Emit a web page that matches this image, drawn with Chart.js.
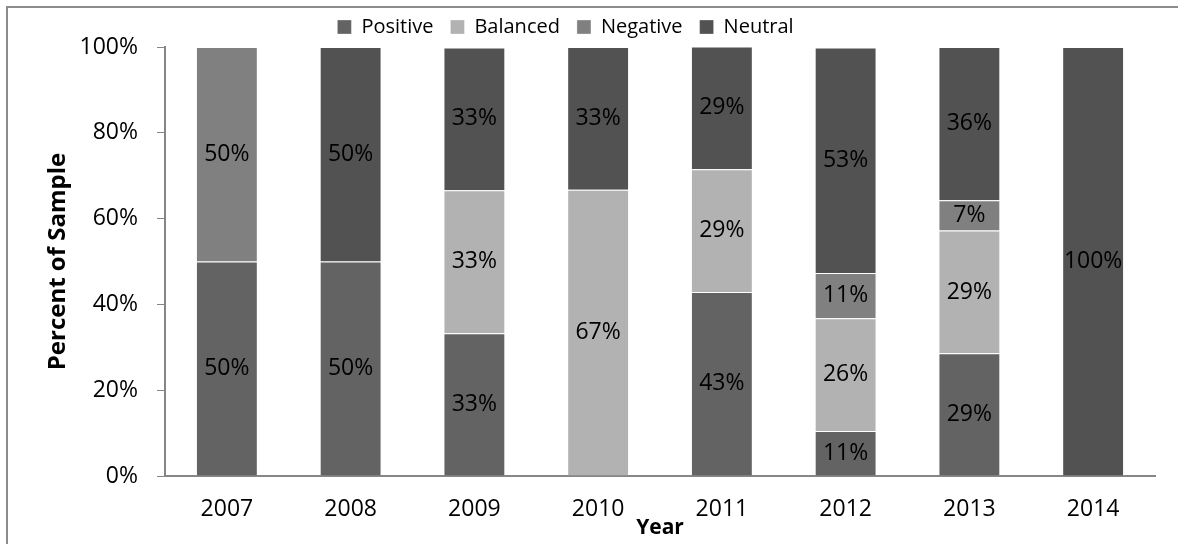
<!DOCTYPE html>
<html>
<head>
<meta charset="utf-8">
<script src="https://cdn.jsdelivr.net/npm/chart.js@4.4.1/dist/chart.umd.min.js"></script>
<style>
  html, body { margin: 0; padding: 0; background: #fff; overflow: hidden; }
  #wrap { position: relative; width: 1178px; height: 544px; }
  #frame {
    position: absolute; left: 6px; top: 6px; width: 1300px; height: 700px;
    border-left: 2px solid #8c8c8c; border-top: 2px solid #8c8c8c;
    pointer-events: none;
  }
</style>
</head>
<body>
<div id="wrap">
  <canvas id="chart" width="1178" height="544"></canvas>
  <div id="frame"></div>
</div>
<script>
// years on the x axis
const years = ['2007', '2008', '2009', '2010', '2011', '2012', '2013', '2014'];

// share of sample per tone, in percent
const positive = [50, 50, 33.3, 0, 42.9, 10.5, 28.6, 0];
const balanced = [0, 0, 33.3, 66.7, 28.6, 26.3, 28.6, 0];
const negative = [50, 0, 0, 0, 0, 10.5, 7.1, 0];
const neutral = [0, 50, 33.3, 33.3, 28.6, 52.6, 35.7, 100];

const yTicks = [0, 20, 40, 60, 80, 100];

const FONT = '"Open Sans", "Noto Sans", sans-serif';
const AXIS_GREY = '#868686';

// draws the rounded percentage in the middle of each segment
const segmentLabels = {
    id: 'segmentLabels',
    afterDatasetsDraw(chart) {
        const ctx = chart.ctx;
        ctx.save();
        ctx.font = '23px ' + FONT;
        ctx.fillStyle = '#000';
        ctx.textAlign = 'center';
        ctx.textBaseline = 'middle';
        chart.data.datasets.forEach((ds, di) => {
            const meta = chart.getDatasetMeta(di);
            if (meta.hidden) return;
            meta.data.forEach((bar, i) => {
                const v = ds.data[i];
                if (!v) return;
                const p = bar.getProps(['x', 'y', 'base'], true);
                ctx.fillText(Math.round(v) + '%', p.x, (p.y + p.base) / 2);
            });
        });
        ctx.restore();
    }
};

// legend in the original sits a bit left of the canvas centre
const legendShift = {
    id: 'legendShift',
    afterLayout(chart) {
        if (chart.legend) chart.legend.right -= 24;
    }
};

const ctx = document.getElementById('chart').getContext('2d');
new Chart(ctx, {
    type: 'bar',
    data: {
        labels: years,
        datasets: [
            { label: 'Positive', data: positive, backgroundColor: '#636363' },
            { label: 'Balanced', data: balanced, backgroundColor: '#b2b2b2' },
            { label: 'Negative', data: negative, backgroundColor: '#808080' },
            { label: 'Neutral', data: neutral, backgroundColor: '#525252' }
        ].map(d => Object.assign(d, {
            borderColor: 'rgba(255,255,255,0.3)',
            borderWidth: 1,
            barPercentage: 0.5,
            categoryPercentage: 1
        }))
    },
    options: {
        responsive: false,
        animation: false,
        layout: { padding: { top: 0, right: 23, bottom: 0, left: 0 } },
        plugins: {
            legend: {
                position: 'top',
                labels: {
                    boxWidth: 14,
                    boxHeight: 14,
                    padding: 17,
                    color: '#000',
                    font: { family: FONT, size: 20 }
                }
            },
            tooltip: { enabled: false }
        },
        scales: {
            x: {
                stacked: true,
                grid: { display: false, drawTicks: false },
                border: { display: true, color: AXIS_GREY, width: 2 },
                ticks: {
                    padding: 20,
                    color: '#000',
                    font: { family: FONT, size: 23 }
                },
                title: {
                    display: true,
                    text: 'Year',
                    color: '#000',
                    padding: { top: 0, bottom: 3 },
                    font: { family: FONT, size: 21, weight: 'bold' }
                },
                afterFit(scale) { scale.height = 68; }
            },
            y: {
                stacked: true,
                min: 0,
                max: 100,
                afterBuildTicks(scale) {
                    scale.ticks = yTicks.map(v => ({ value: v }));
                },
                grid: {
                    display: true,
                    drawOnChartArea: false,
                    drawTicks: true,
                    tickLength: 8,
                    color: AXIS_GREY,
                    lineWidth: 1
                },
                border: { display: true, color: AXIS_GREY, width: 2 },
                ticks: {
                    padding: 19,
                    color: '#000',
                    font: { family: FONT, size: 23 },
                    callback: v => v + '%'
                },
                title: {
                    display: true,
                    text: 'Percent of Sample',
                    color: '#000',
                    padding: { top: 44, bottom: 0 },
                    font: { family: FONT, size: 24, weight: 'bold' }
                },
                afterFit(scale) { scale.width = 165; }
            }
        }
    },
    plugins: [segmentLabels, legendShift]
});
</script>
</body>
</html>
